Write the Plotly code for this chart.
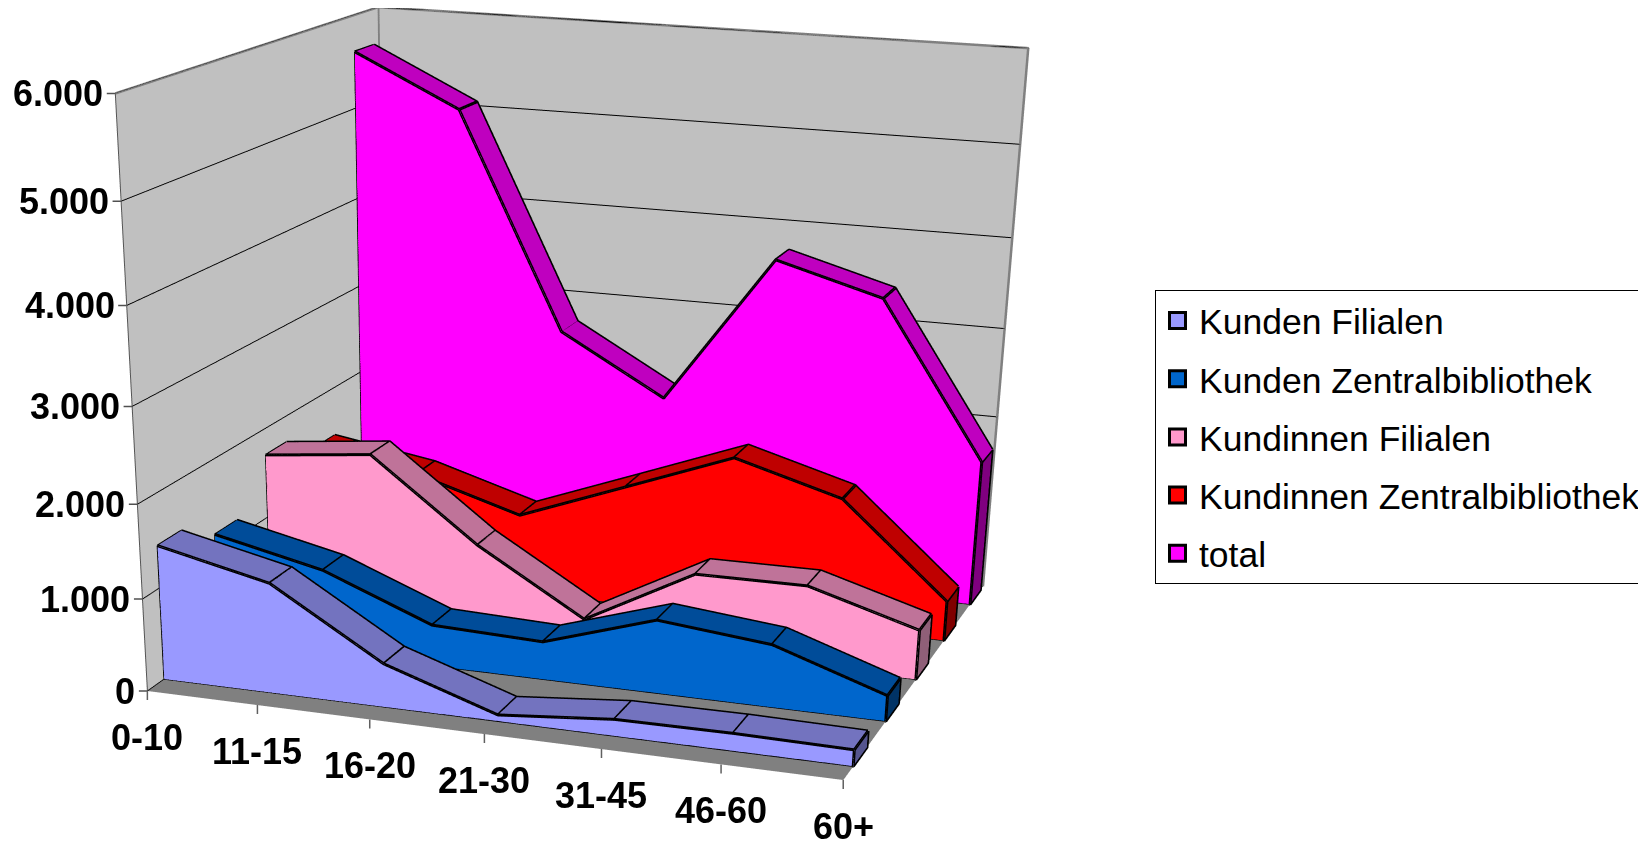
import plotly.graph_objects as go

# Kunden/Kundinnen nach Altersgruppe, von vorne nach hinten
kategorien = ["0-10", "11-15", "16-20", "21-30", "31-45", "46-60", "60+"]
kunden_filialen = [1455, 1190, 470, 70, 180, 189, 175]
kunden_zentral = [1188, 925, 456, 417, 801, 681, 279]
kundinnen_filialen = [1707, 1833, 945, 240, 891, 900, 550]
kundinnen_zentral = [1446, 1257, 905, 1359, 1815, 1480, 450]
total = [5610, 5066, 2690, 2037, 3700, 3378, 1660]

namen = ["Kunden Filialen", "Kunden Zentralbibliothek", "Kundinnen Filialen",
         "Kundinnen Zentralbibliothek", "total"]
reihen = [kunden_filialen, kunden_zentral, kundinnen_filialen, kundinnen_zentral, total]

farben = ["#9999FF", "#0066CC", "#FF99CC", "#FF0000", "#FF00FF"]
farben_oben = ["#7373BF", "#004C99", "#BF7399", "#BF0000", "#BF00BF"]
farben_seite = ["#55558F", "#003366", "#8F5F78", "#7F0000", "#7F007F"]

z_ticks = [0, 1000, 2000, 3000, 4000, 5000, 6000]
z_labels = ["0", "1.000", "2.000", "3.000", "4.000", "5.000", "6.000"]

FONT = "Liberation Sans"
TIEFE = 5

fig = go.Figure()


def flaeche(werte, nr):
    """Vorderseite, Oberseite und rechte Stirnseite einer Reihe als Mesh + Kanten."""
    n = len(werte)
    y0 = 0.3 + 1.04 * nr
    y1 = y0 + 0.43
    xs, ys, zs = [], [], []
    for i, w in enumerate(werte):
        # je Kategorie vier Ecken: unten vorne, oben vorne, oben hinten, unten hinten
        xs += [i, i, i, i]
        ys += [y0, y0, y1, y1]
        zs += [0, w, w, 0]
    a, b, c, fc = [], [], [], []
    for i in range(n - 1):
        p, q = 4 * i, 4 * (i + 1)
        a += [p, p, p + 1, p + 1]
        b += [p + 1, q + 1, q + 1, q + 2]
        c += [q + 1, q, q + 2, p + 2]
        fc += [farben[nr]] * 2 + [farben_oben[nr]] * 2
    e = 4 * (n - 1)
    a += [e, e]
    b += [e + 1, e + 2]
    c += [e + 2, e + 3]
    fc += [farben_seite[nr]] * 2
    fig.add_trace(go.Mesh3d(
        x=xs, y=ys, z=zs, i=a, j=b, k=c, facecolor=fc, flatshading=True,
        lighting=dict(ambient=1, diffuse=0, specular=0, fresnel=0, roughness=1),
        hoverinfo="skip", showscale=False,
    ))

    # Kanten
    lx, ly, lz = [], [], []

    def kante(*pts):
        for p in pts:
            lx.append(p[0]); ly.append(p[1]); lz.append(p[2])
        lx.append(None); ly.append(None); lz.append(None)

    kante(*[(i, y0, w) for i, w in enumerate(werte)])
    kante(*[(i, y1, w) for i, w in enumerate(werte)])
    for i, w in enumerate(werte):
        kante((i, y0, w), (i, y1, w))
    kante((0, y0, werte[0]), (0, y0, 0), (n - 1, y0, 0), (n - 1, y0, werte[-1]))
    kante((n - 1, y0, 0), (n - 1, y1, 0), (n - 1, y1, werte[-1]))
    fig.add_trace(go.Scatter3d(
        x=lx, y=ly, z=lz, mode="lines", line=dict(color="black", width=6),
        hoverinfo="skip", showlegend=False,
    ))


for nr, werte in enumerate(reihen):
    flaeche(werte, nr)

# Wandkanten
x_max = len(kategorien) - 1
z_max = z_ticks[-1]
fig.add_trace(go.Scatter3d(
    x=[0, 0, x_max, x_max, None, 0, 0],
    y=[0, TIEFE, TIEFE, TIEFE, None, TIEFE, TIEFE],
    z=[z_max, z_max, z_max, 0, None, z_max, 0],
    mode="lines", line=dict(color="#808080", width=5), hoverinfo="skip", showlegend=False,
))
fig.add_trace(go.Scatter3d(
    x=[0, 0], y=[0, 0], z=[0, z_max], mode="lines",
    line=dict(color="#555555", width=2), hoverinfo="skip", showlegend=False,
))

# Legende ueber leere 2D-Spuren
for nr, name in enumerate(namen):
    fig.add_trace(go.Scatter(
        x=[None], y=[None], mode="markers", name=name, legendgroup=name,
        marker=dict(symbol="square", size=16, color=farben[nr], line=dict(color="black", width=3)),
    ))

schrift = dict(family=FONT, size=36, color="black", weight="bold")
anmerkungen = []
for v, t in zip(z_ticks, z_labels):
    anmerkungen.append(dict(x=0, y=0, z=v, text=t, showarrow=False, xanchor="right",
                            yanchor="middle", xshift=-10, font=schrift))
    # Teilstrich
    anmerkungen.append(dict(x=0, y=0, z=v, text=" ", showarrow=True, arrowhead=0, arrowwidth=1.5,
                            arrowcolor="#505050", ax=-10, ay=0, standoff=0, font=dict(size=1)))
for i, t in enumerate(kategorien):
    anmerkungen.append(dict(x=i, y=0, z=0, text=t, showarrow=False, xanchor="center",
                            yanchor="middle", yshift=-46, font=schrift))
    anmerkungen.append(dict(x=i, y=0, z=0, text=" ", showarrow=True, arrowhead=0, arrowwidth=1.5,
                            arrowcolor="#606060", ax=0, ay=11, standoff=0, font=dict(size=1)))

achse = dict(title=dict(text=""), showticklabels=False, showspikes=False, zeroline=False,
             showgrid=False, showline=False, ticks="")

HOEHE = 2536  # die Szene reicht weit unter das Fenster, das ergibt die flache Perspektive
fig.update_layout(
    width=1646, height=HOEHE,
    margin=dict(l=0, r=0, t=0, b=0, autoexpand=False),
    paper_bgcolor="white", plot_bgcolor="white",
    xaxis=dict(visible=False), yaxis=dict(visible=False),
    scene=dict(
        domain=dict(x=[0, 1144.8 / 1646], y=[0, 1]),
        aspectmode="manual", aspectratio=dict(x=1.5466, y=1.4235, z=1.2189),
        camera=dict(
            eye=dict(x=2.0512, y=-6.5099, z=1.5659),
            center=dict(x=0.1854, y=-0.5521, z=-1.965),
            up=dict(x=-0.5239, y=1.5577, z=1),
            projection=dict(type="perspective"),
        ),
        xaxis=dict(achse, range=[0, x_max], tickvals=list(range(len(kategorien))),
                   showbackground=True, backgroundcolor="#C0C0C0"),
        yaxis=dict(achse, range=[0, TIEFE], tickvals=[],
                   showbackground=True, backgroundcolor="#C0C0C0"),
        zaxis=dict(achse, range=[0, z_max], tickvals=z_ticks, showgrid=True, gridcolor="black",
                   gridwidth=2, showbackground=True, backgroundcolor="#808080"),
        annotations=anmerkungen,
    ),
    showlegend=True,
    legend=dict(
        x=1147 / 1646, y=1 - 282 / HOEHE, xanchor="left", yanchor="top",
        bgcolor="white", bordercolor="black", borderwidth=1, itemwidth=33,
        font=dict(family=FONT, size=35.5, color="black"),
        tracegroupgap=9, itemclick=False, itemdoubleclick=False,
    ),
)

fig.write_html("out.html", config=dict(displayModeBar=False))
